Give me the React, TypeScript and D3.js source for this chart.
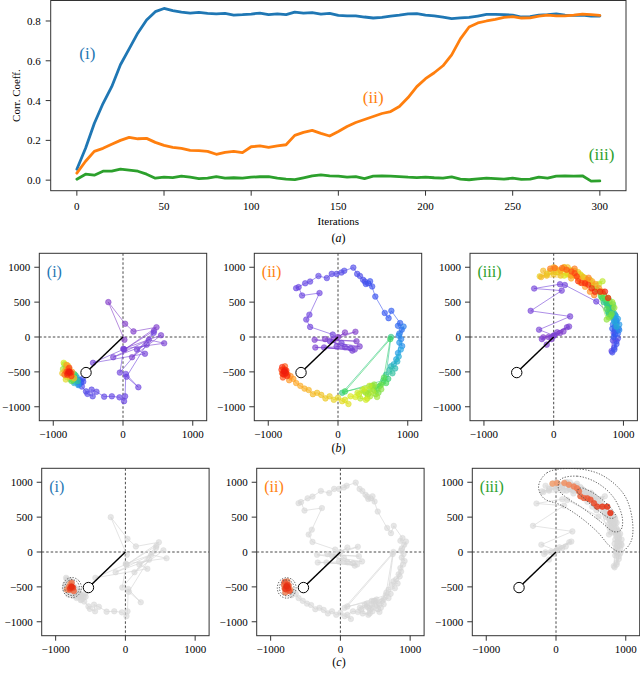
import * as d3 from 'd3';

type Pt = [number, number, number]; // [iteration, x, y]

const FONT = "'Liberation Serif', 'Times New Roman', Times, serif";

// ---- (a) correlation coefficient, sampled every 5 iterations ----
const iterations = d3.range(0, 301, 5);
const corrI = [
  0.055, 0.16, 0.285, 0.385, 0.47, 0.58, 0.66, 0.74, 0.805, 0.847,
  0.863, 0.852, 0.845, 0.84, 0.843, 0.838, 0.836, 0.838, 0.83, 0.832,
  0.835, 0.84, 0.832, 0.836, 0.832, 0.845, 0.84, 0.842, 0.835, 0.838,
  0.828, 0.826, 0.826, 0.82, 0.815, 0.818, 0.825, 0.83, 0.836, 0.837,
  0.83, 0.826, 0.82, 0.812, 0.816, 0.818, 0.825, 0.833, 0.833, 0.832,
  0.83, 0.82, 0.822, 0.83, 0.832, 0.836, 0.83, 0.828, 0.83, 0.825,
  0.825,
];
const corrII = [
  0.035, 0.095, 0.145, 0.16, 0.18, 0.2, 0.215, 0.208, 0.21, 0.19,
  0.175, 0.165, 0.16, 0.15, 0.148, 0.145, 0.13, 0.14, 0.145, 0.138,
  0.168, 0.172, 0.165, 0.172, 0.178, 0.225, 0.24, 0.25, 0.235, 0.222,
  0.245, 0.27, 0.29, 0.305, 0.32, 0.335, 0.345, 0.37, 0.415, 0.47,
  0.51, 0.54, 0.575, 0.63, 0.71, 0.77, 0.79, 0.8, 0.808, 0.818,
  0.822, 0.815, 0.816, 0.825, 0.83, 0.826, 0.826, 0.83, 0.835, 0.832,
  0.828,
];
const corrIII = [
  0.005, 0.03, 0.025, 0.045, 0.045, 0.055, 0.05, 0.045, 0.03, 0.01,
  0.015, 0.013, 0.02, 0.015, 0.008, 0.01, 0.018, 0.01, 0.012, 0.01,
  0.015, 0.017, 0.018, 0.01, 0.005, 0.003, 0.012, 0.022, 0.027, 0.022,
  0.02, 0.015, 0.018, 0.008, 0.02, 0.022, 0.02, 0.018, 0.015, 0.013,
  0.015, 0.012, 0.01, 0.016, 0.005, 0.002, 0.006, 0.01, 0.008, 0.005,
  0.01, 0.004, 0.005, 0.015, 0.01, 0.02, 0.022, 0.02, 0.022, -0.005,
  -0.004,
];
const xTicksA = [0, 50, 100, 150, 200, 250, 300];
const yTicksA = [0, 0.2, 0.4, 0.6, 0.8];

// ---- (b)/(c) trajectories ----
const trajI: Pt[] = [
  [0, 20, -40], [1, -210, 500], [2, 30, 190], [3, 150, 80], [4, 480, 140],
  [5, 20, -180], [6, 445, 90], [7, 130, -290], [8, 545, 25], [9, 5, -170],
  [10, 590, -90], [11, 370, -40], [12, -140, -290], [13, 340, -110], [14, 200, -180],
  [15, 315, -240], [16, -430, -370], [17, 10, -175], [18, -45, -510], [19, 440, 60],
  [20, 50, -570], [21, 220, -720], [22, 40, -530], [23, 30, -850], [24, 15, -920],
  [25, -50, -865], [26, -160, -850], [27, -270, -855], [28, -380, -785], [29, -450, -755],
  [30, -435, -850], [31, -510, -815], [32, -530, -780], [33, -590, -710], [34, -570, -640],
  [38, -580, -600], [42, -600, -650], [46, -620, -620], [50, -630, -680], [54, -650, -610],
  [60, -640, -650], [66, -670, -610], [72, -640, -690], [78, -690, -640], [84, -660, -580],
  [90, -700, -660], [96, -680, -550], [102, -720, -620], [108, -650, -630], [114, -710, -570],
  [120, -760, -600], [126, -700, -530], [132, -820, -430], [138, -740, -630], [144, -840, -390],
  [150, -720, -610], [156, -800, -520], [162, -860, -460], [168, -770, -460], [174, -810, -570],
  [180, -850, -370], [186, -740, -550], [192, -820, -610], [198, -790, -410], [204, -870, -520],
  [210, -700, -590], [216, -830, -480], [222, -760, -570], [228, -810, -400], [234, -730, -500],
  [240, -790, -460], [246, -840, -540], [252, -760, -520], [258, -810, -500], [264, -770, -440],
  [270, -740, -560], [276, -800, -540], [282, -780, -490], [288, -750, -510], [294, -790, -520],
  [300, -770, -500],
];
const trajII: Pt[] = [
  [0, 0, 0], [1, 100, 65], [2, -60, -40], [3, 250, 75], [4, -185, -30],
  [5, 265, -60], [6, -335, -40], [7, 310, -135], [8, -325, -150], [9, 240, -180],
  [10, -200, -150], [11, 205, -195], [12, -20, -135], [13, 100, -145], [14, -115, -60],
  [15, 180, -160], [16, 50, -85], [17, -75, 35],
  [18, -400, 145], [19, -455, 250], [20, -410, 320], [21, -265, 630], [22, -515, 595],
  [23, -565, 715], [24, -600, 700], [25, -470, 770], [26, -400, 795], [27, -280, 875],
  [28, -160, 845], [29, -90, 905], [30, -20, 905], [31, 50, 925], [32, 90, 950],
  [33, 220, 995], [34, 275, 905], [35, 315, 875], [36, 360, 820], [37, 385, 795],
  [38, 430, 770], [39, 400, 760], [40, 490, 725], [41, 460, 800], [42, 535, 580],
  [44, 670, 345], [46, 725, 270], [48, 765, 375],
  [50, 890, 200], [53, 860, 160], [56, 915, 105], [59, 880, 50], [62, 940, 150],
  [65, 905, -30], [68, 870, 20], [71, 920, -130], [74, 880, -80],
  [77, 860, -230], [80, 900, -180], [83, 835, -320], [86, 870, -280], [89, 800, -390],
  [92, 850, -350], [95, 760, -420], [98, 820, -450],
  [101, 740, -470], [104, 780, -520], [107, 690, -540], [110, 760, 0], [113, 60, -800],
  [116, 720, -600], [119, 650, -620], [122, 750, -30], [125, 100, -780], [128, 690, -660],
  [131, 600, -700], [134, 660, -580], [137, 560, -740], [140, 620, -680], [143, 520, -760],
  [146, 580, -800], [149, 480, -700],
  [151, 620, -750], [152, 540, -820], [154, 520, -680], [155, 450, -760], [157, 430, -820],
  [158, 500, -700], [160, 560, -860], [161, 400, -800], [163, 380, -780], [164, 460, -850],
  [166, 500, -780], [167, 350, -760], [169, 320, -880], [170, 420, -880], [172, 450, -700],
  [173, 300, -820], [175, 280, -800], [176, 380, -740], [178, 400, -900], [179, 250, -860],
  [182, 180, -850], [185, 100, -900], [188, 150, -960], [191, 60, -920], [194, 0, -870],
  [197, -60, -900],
  [200, -120, -850], [203, -180, -880], [206, -240, -830], [209, -300, -800], [212, -360, -820],
  [215, -420, -760], [218, -480, -740], [221, -540, -700], [224, -600, -660], [227, -640, -600],
  [230, -700, -620], [233, -680, -560],
  [236, -740, -520], [240, -780, -460], [244, -720, -540], [248, -800, -520], [252, -760, -420],
  [256, -790, -580], [260, -740, -480], [264, -810, -470], [268, -770, -540], [272, -750, -500],
  [276, -800, -430], [280, -730, -560], [284, -780, -500], [288, -760, -470], [292, -790, -530],
  [296, -750, -520], [300, -770, -490],
];
const trajIII: Pt[] = [
  [0, 0, 20], [1, -150, -5], [2, 90, 57], [3, -75, 0], [4, 140, 80],
  [5, -30, -30], [6, 50, 67], [7, -100, -110], [8, 190, 140], [9, -170, -30],
  [10, 220, 150], [11, 5, 20], [12, -210, 105], [13, 235, 295], [14, -330, 375],
  [15, 115, 665], [16, -280, 695], [17, 90, 757], [18, 160, 745], [19, 610, 510],
  [22, 860, 280], [24, 830, -200], [26, 880, 100], [28, 900, -60], [30, 850, -50],
  [32, 860, 60], [34, 870, -150], [36, 920, -20], [38, 840, -220], [40, 870, -180],
  [42, 900, -100], [44, 880, 40], [46, 860, 0], [48, 840, 120], [50, 920, 50],
  [52, 910, 90], [55, 880, 150], [57, 850, 180], [60, 930, 120], [62, 900, 240],
  [65, 900, 200], [67, 940, 100], [70, 860, 250], [72, 880, 320], [75, 940, 180],
  [77, 920, 260], [80, 890, 300], [82, 860, 300], [85, 870, 220], [87, 900, 150],
  [90, 830, 380], [92, 800, 420], [95, 800, 450], [97, 850, 430], [100, 860, 350],
  [102, 780, 360], [105, 760, 480], [107, 720, 500], [110, 820, 420], [112, 840, 380],
  [115, 740, 520], [117, 770, 450], [120, 790, 330], [122, 800, 520], [125, 700, 560],
  [127, 680, 580], [130, 850, 470], [132, 820, 300], [135, 760, 400], [137, 750, 550],
  [140, 720, 600], [142, 680, 650], [145, 800, 280], [147, 830, 330], [150, 660, 640],
  [152, 620, 680], [155, 760, 250], [157, 780, 560], [160, 840, 500], [162, 870, 420],
  [165, 600, 700], [167, 550, 740], [170, 700, 800], [172, 650, 760], [175, 560, 770],
  [177, 520, 820], [180, 150, 880], [182, 200, 900], [185, 450, 850], [187, 400, 880],
  [190, 380, 900], [191, -100, 900], [193, 250, 960], [194, 300, 950], [195, 50, 930],
  [197, -200, 870], [198, 200, 920], [199, 150, 1000], [201, 350, 930], [202, 100, 960],
  [203, -50, 950], [205, 100, 880], [206, 0, 900], [207, 300, 880], [209, 200, 1000],
  [210, -100, 880], [211, -150, 950], [213, 420, 860], [214, -180, 860], [215, 0, 1000],
  [217, 250, 840], [218, 30, 980], [219, 480, 820], [221, 100, 950], [222, 150, 1000],
  [223, 380, 780], [225, 550, 800], [226, 250, 880], [227, 600, 760], [229, 450, 720],
  [230, 350, 840], [231, 650, 700], [233, 520, 650], [234, 450, 780], [235, 700, 650],
  [237, 580, 600], [238, 500, 850], [239, 300, 980],
  [240, -50, 980], [244, 15, 990], [248, 120, 990], [252, 185, 965], [256, 255, 940],
  [260, 300, 915], [264, 330, 870], [268, 350, 800], [272, 400, 775], [276, 450, 770],
  [280, 495, 750], [284, 545, 700], [288, 590, 650], [292, 665, 650], [296, 735, 650],
  [300, 780, 560],
];

// density contours around the late iterations (c)
const contoursI: [number, number][][] = [
  [[-630, -510], [-670, -408], [-765, -365], [-860, -408], [-900, -510], [-860, -612], [-765, -655], [-670, -612]],
  [[-660, -510], [-690, -430], [-765, -395], [-840, -430], [-870, -510], [-840, -590], [-765, -625], [-690, -590]],
];
const contoursII: [number, number][][] = [
  [[-635, -515], [-672, -410], [-770, -368], [-866, -410], [-905, -515], [-866, -620], [-770, -662], [-672, -620]],
  [[-665, -515], [-695, -435], [-770, -400], [-845, -435], [-875, -515], [-845, -595], [-770, -630], [-695, -595]],
];
const contoursIII: [number, number][][] = [
  [[-250, 942], [-130, 1135], [207, 1198], [640, 1111], [977, 821], [1097, 435], [1073, 145], [928, 0],
    [784, 72], [592, 290], [303, 531], [63, 676], [-178, 773]],
  [[63, 1038], [303, 1087], [592, 990], [832, 773], [952, 483], [928, 314], [832, 290], [640, 435],
    [351, 652], [159, 773], [38, 894]],
  [[351, 918], [495, 869], [664, 749], [808, 604], [856, 507], [784, 483], [592, 604], [399, 773], [303, 869]],
];

const xTicksB = [-1000, 0, 1000];
const yTicksB = [-1000, -500, 0, 500, 1000];
const probe: [number, number] = [-530, -510];
const lastIters = 240;
const maxIter = 300;

const labelColors = ['#1f77b4', '#ff7f0e', '#2ca02c'];

// iteration colour map (purple -> blue -> green -> yellow -> red)
const rainbow = d3.scaleLinear<string>()
  .domain([0, 0.08, 0.15, 0.27, 0.42, 0.6, 0.75, 0.88, 1])
  .range(['#8640c8', '#6a46e2', '#3458f2', '#22a6e6', '#3ed85a', '#d8ec22', '#ffa424', '#ff3a12', '#ee1c0c'])
  .interpolate(d3.interpolateRgb)
  .clamp(true);

const minus = (v: number) => (v < 0 ? '\u2212' + Math.abs(v) : String(v));

function Txt(props: any) {
  return <text fontFamily={FONT} fill="#000" {...props} />;
}

function CorrChart() {
  const L = 50.7, R = 626, T = 0.5, B = 190.7;
  const x = d3.scaleLinear().domain([-15, 315]).range([L, R]);
  const y = d3.scaleLinear().domain([-0.053, 0.903]).range([B, T]);
  const line = d3.line<number>().x((_, i) => x(iterations[i])).y(d => y(d));
  const series = [corrI, corrII, corrIII];
  const notes: [string, number, number][] = [['(i)', 6, 0.64], ['(ii)', 170, 0.418], ['(iii)', 301, 0.131]];

  return (
    <g>
      {series.map((s, i) => (
        <path key={i} d={line(s) || ''} fill="none" stroke={labelColors[i]} strokeWidth={2.8}
          strokeLinejoin="round" strokeLinecap="round" />
      ))}
      <rect x={L} y={T} width={R - L} height={B - T} fill="none" stroke="#333" strokeWidth={1} />
      {xTicksA.map(t => (
        <g key={t}>
          <line x1={x(t)} x2={x(t)} y1={B} y2={B + 5} stroke="#333" />
          <Txt x={x(t)} y={B + 19} fontSize={11} textAnchor="middle">{t}</Txt>
        </g>
      ))}
      {yTicksA.map(t => (
        <g key={t}>
          <line x1={L - 5} x2={L} y1={y(t)} y2={y(t)} stroke="#333" />
          <Txt x={L - 10} y={y(t) + 4} fontSize={11} textAnchor="end">{t.toFixed(1)}</Txt>
        </g>
      ))}
      {notes.map(([s, it, v], i) => (
        <Txt key={s} x={x(it)} y={y(v) + 6} fontSize={17} textAnchor="middle" fill={labelColors[i]}>{s}</Txt>
      ))}
      <Txt x={(L + R) / 2} y={225} fontSize={11} textAnchor="middle">Iterations</Txt>
      <Txt transform={`translate(20,${(T + B) / 2}) rotate(-90)`} fontSize={11} textAnchor="middle">Corr. Coeff.</Txt>
    </g>
  );
}

const SIZE = 167.4;

function Panel({ id, left, top, traj, mode, idx, contours }: {
  id: string; left: number; top: number; traj: Pt[]; mode: 'b' | 'c'; idx: number;
  contours?: [number, number][][];
}) {
  const x = d3.scaleLinear().domain([-1200, 1200]).range([left, left + SIZE]);
  const y = d3.scaleLinear().domain([-1200, 1200]).range([top + SIZE, top]);
  const bottom = top + SIZE;
  const col = (d: Pt) => rainbow(d[0] / maxIter);
  const late = traj.filter(d => d[0] >= lastIters);
  const lateCol = d3.interpolateRgb('#f2a272', '#e62e12');
  const contourLine = d3.line<[number, number]>().x(d => x(d[0])).y(d => y(d[1])).curve(d3.curveCatmullRomClosed.alpha(0.5));

  return (
    <g>
      <defs>
        <clipPath id={id}><rect x={left} y={top} width={SIZE} height={SIZE} /></clipPath>
      </defs>
      <g clipPath={`url(#${id})`}>
        <line x1={x(0)} x2={x(0)} y1={top} y2={bottom} stroke="#333" strokeWidth={0.9} strokeDasharray="2.5,2" />
        <line x1={left} x2={left + SIZE} y1={y(0)} y2={y(0)} stroke="#333" strokeWidth={0.9} strokeDasharray="2.5,2" />
        {traj.slice(1).map((d, i) => (
          <line key={'s' + i} x1={x(traj[i][1])} y1={y(traj[i][2])} x2={x(d[1])} y2={y(d[2])}
            stroke={mode === 'b' ? col(traj[i]) : '#dadada'} strokeWidth={0.8} strokeOpacity={mode === 'b' ? 0.75 : 0.9} />
        ))}
        {traj.map((d, i) => (
          <circle key={'p' + i} cx={x(d[1])} cy={y(d[2])} r={2.8}
            fill={mode === 'b' ? col(d) : '#d6d6d6'} fillOpacity={mode === 'b' ? 0.65 : 0.6}
            stroke={mode === 'b' ? col(d) : '#d6d6d6'} strokeOpacity={mode === 'b' ? 0.85 : 0.6} strokeWidth={0.6} />
        ))}
        {mode === 'c' && late.slice(1).map((d, i) => (
          <line key={'ls' + i} x1={x(late[i][1])} y1={y(late[i][2])} x2={x(d[1])} y2={y(d[2])}
            stroke={lateCol(i / (late.length - 1))} strokeWidth={0.7} strokeOpacity={0.6} />
        ))}
        {mode === 'c' && late.map((d, i) => (
          <circle key={'l' + i} cx={x(d[1])} cy={y(d[2])} r={2.8}
            fill={lateCol(i / (late.length - 1))} fillOpacity={0.85}
            stroke={lateCol(i / (late.length - 1))} strokeWidth={0.6} />
        ))}
        {mode === 'c' && contours && contours.map((c, i) => (
          <path key={'c' + i} d={contourLine(c) || ''} fill="none" stroke="#555" strokeWidth={0.9} strokeDasharray="1.3,1.5" />
        ))}
        <line x1={x(0)} y1={y(0)} x2={x(probe[0])} y2={y(probe[1])} stroke="#000" strokeWidth={1.5} />
        <circle cx={x(probe[0])} cy={y(probe[1])} r={5.2} fill="#fff" stroke="#000" strokeWidth={1} />
      </g>
      <rect x={left} y={top} width={SIZE} height={SIZE} fill="none" stroke="#333" strokeWidth={1} />
      {xTicksB.map(t => (
        <g key={'x' + t}>
          <line x1={x(t)} x2={x(t)} y1={bottom} y2={bottom + 5} stroke="#333" />
          <Txt x={x(t)} y={bottom + 17.5} fontSize={11} textAnchor="middle">{minus(t)}</Txt>
        </g>
      ))}
      {yTicksB.map(t => (
        <g key={'y' + t}>
          <line x1={left - 5} x2={left} y1={y(t)} y2={y(t)} stroke="#333" />
          <Txt x={left - 9} y={y(t) + 4} fontSize={11} textAnchor="end">{minus(t)}</Txt>
        </g>
      ))}
      <Txt x={left + 7.5} y={top + 24} fontSize={16} fill={labelColors[idx]}>{['(i)', '(ii)', '(iii)'][idx]}</Txt>
    </g>
  );
}

export default function App() {
  const trajs = [trajI, trajII, trajIII];
  const contours = [contoursI, contoursII, contoursIII];
  const bLefts = [39.3, 254.3, 470];
  const cLefts = [41.7, 256.7, 472.3];
  return (
    <svg width={640} height={674} style={{ position: 'absolute', left: 0, top: 0 }}>
      <rect width={640} height={674} fill="#fff" />
      <CorrChart />
      {trajs.map((t, i) => (
        <Panel key={'b' + i} id={'clipb' + i} left={bLefts[i]} top={253.3} traj={t} mode="b" idx={i} />
      ))}
      {trajs.map((t, i) => (
        <Panel key={'c' + i} id={'clipc' + i} left={cLefts[i]} top={468.3} traj={t} mode="c" idx={i} contours={contours[i]} />
      ))}
      <Txt x={338.4} y={242} fontSize={12} textAnchor="middle">(<tspan fontStyle="italic">a</tspan>)</Txt>
      <Txt x={338.4} y={452} fontSize={12} textAnchor="middle">(<tspan fontStyle="italic">b</tspan>)</Txt>
      <Txt x={339} y={666} fontSize={12} textAnchor="middle">(<tspan fontStyle="italic">c</tspan>)</Txt>
    </svg>
  );
}
